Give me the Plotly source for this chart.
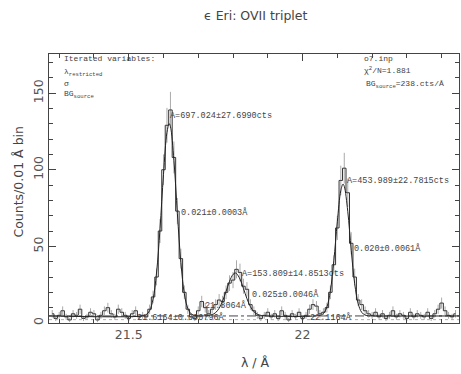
import numpy as np
import plotly.graph_objects as go

# ---------------- data ----------------
bin_start = 21.28
bin_width = 0.01
counts = [
    6, 3, 5, 8, 4, 2, 6, 5, 9, 3, 4, 7, 6, 2, 5, 8, 10, 6, 4, 9, 7, 5, 3, 6, 8, 4, 5,
    4, 9, 17, 30, 60, 100, 129, 139, 108, 73, 42, 20, 9, 4,
    3, 8, 14, 10, 6, 9, 12, 15,
    14, 20, 26, 28, 35, 33, 24, 22, 12, 8, 5, 3,
    5, 7, 4, 6, 3, 8, 5, 2, 6, 4, 7, 3, 5, 9, 12, 11, 6,
    7, 10, 20, 38, 62, 93, 101, 85, 52, 30, 15, 12, 8, 6,
    5, 7, 4, 6, 3, 5, 8, 4, 6, 5, 3, 7, 4, 6, 5, 4, 7, 3, 6, 9, 13, 8, 5, 4, 6,
]
bin_centers = np.round(bin_start + bin_width * np.arange(len(counts)), 3)

model_x = [21.27, 21.54, 21.55, 21.56, 21.57, 21.58, 21.59, 21.60, 21.61, 21.6164, 21.62, 21.63,
           21.64, 21.65, 21.66, 21.67, 21.68, 21.69, 21.70,
           21.73, 21.74, 21.75, 21.76, 21.77, 21.78, 21.79, 21.80, 21.8064, 21.81, 21.82,
           21.83, 21.84, 21.85, 21.86, 21.87, 21.88, 21.89,
           22.05, 22.06, 22.07, 22.08, 22.09, 22.10, 22.11, 22.1164, 22.12, 22.13, 22.14,
           22.15, 22.16, 22.17, 22.18, 22.19, 22.20, 22.45]
model_y = [4.6, 4.6, 5.4, 8.0, 15.5, 32.6, 61.5, 97.0, 124.3, 130.0, 128.2, 106.0,
           71.3, 39.5, 19.1, 9.4, 5.9, 4.9, 4.6,
           4.9, 5.4, 6.8, 9.6, 14.3, 20.6, 27.2, 31.7, 32.6, 32.3, 28.7,
           22.5, 15.9, 10.7, 7.4, 5.7, 5.0, 4.7,
           5.0, 6.2, 10.4, 21.0, 40.6, 66.0, 86.3, 90.6, 89.2, 72.9, 47.5,
           25.6, 12.6, 7.0, 5.15, 4.7, 4.6, 4.6]

bg_total = 4.6
bg_source = 2.2

x_range = [21.2707, 22.450]
y_range = [0, 175.5]

title = "ϵ Eri: OVII triplet"
x_title = "λ / Å"
y_title = "Counts/0.01 Å bin"

# plot-area geometry (pixels) used for placing corner texts
W, H = 461, 374
L, R, T, B = 48.5, 459, 54, 323

def px(x):
    return (x - L) / (R - L)

def py(y):
    return (B - y) / (B - T)

fig = go.Figure()

# background levels
fig.add_trace(go.Scatter(x=x_range, y=[bg_source, bg_source], mode="lines",
                         line=dict(color="#b0b0b0", width=1, dash="dot"), hoverinfo="skip"))
fig.add_trace(go.Scatter(x=x_range, y=[bg_total, bg_total], mode="lines",
                         line=dict(color="#444444", width=1, dash="dashdot"), hoverinfo="skip"))

# data histogram with error bars
fig.add_trace(go.Scatter(
    x=bin_centers, y=counts, mode="lines", line_shape="hvh",
    line=dict(color="#333333", width=1),
    error_y=dict(type="sqrt", color="#aaaaaa", thickness=1, width=0),
))

# model curve
fig.add_trace(go.Scatter(x=model_x, y=model_y, mode="lines", line_shape="spline",
                         line=dict(color="#222222", width=1)))

mono = "Liberation Mono"
tcol = "#444444"

peak_notes = [
    ("A=697.024±27.6990cts", 21.614, 135),
    ("0.021±0.0003Å", 21.6457, 71.8),
    ("A=153.809±14.8513cts", 21.821, 32),
    ("0.025±0.0046Å", 21.85, 18.9),
    ("21.8064Å", 21.7146, 11.7),
    ("21.6164±0.000796Å", 21.519, 3.3),
    ("22.1164Å", 22.016, 3.3),
    ("A=453.989±22.7815cts", 22.122, 92.6),
    ("0.020±0.0061Å", 22.142, 48.9),
]
annotations = []
for text, x, y in peak_notes:
    annotations.append(dict(text=text, x=x, y=y, xref="x", yref="y", xanchor="left",
                            yanchor="middle", showarrow=False,
                            font=dict(family=mono, size=8.5, color=tcol)))

corner_notes = [
    ("Iterated variables:", 62, 58),
    ("λ<sub>restricted</sub>", 62, 72),
    ("σ", 62, 83),
    ("BG<sub>source</sub>", 62, 94),
    ("o7.inp", 362, 58),
    ("χ<sup>2</sup>/N=1.881", 362, 70),
    ("BG<sub>source</sub>=238.cts/Å", 364, 84),
]
for text, x, y in corner_notes:
    annotations.append(dict(text=text, x=px(x), y=py(y), xref="paper", yref="paper",
                            xanchor="left", yanchor="middle", showarrow=False,
                            font=dict(family=mono, size=8, color=tcol)))

# titles
annotations.append(dict(text=title, x=px(255), y=py(15), xref="paper", yref="paper",
                        xanchor="center", yanchor="middle", showarrow=False,
                        font=dict(family="DejaVu Sans", size=12.5, color="#444444")))
annotations.append(dict(text=x_title, x=px(255), y=py(362), xref="paper", yref="paper",
                        xanchor="center", yanchor="middle", showarrow=False,
                        font=dict(family="DejaVu Sans", size=12.5, color="#444444")))
annotations.append(dict(text=y_title, x=px(17), y=py(182), xref="paper", yref="paper",
                        xanchor="center", yanchor="middle", showarrow=False, textangle=-90,
                        font=dict(family="DejaVu Sans", size=12.5, color="#444444")))

axis_common = dict(showgrid=False, zeroline=False, showline=True, linecolor="#444444",
                   linewidth=1, mirror="ticks", ticks="inside", tickcolor="#444444",
                   ticklen=7, tickwidth=1,
                   tickfont=dict(family="DejaVu Sans", size=12.5, color="#555555"))

fig.update_layout(
    width=W, height=H,
    margin=dict(l=L, r=W - R, t=T, b=H - B, pad=0),
    paper_bgcolor="white", plot_bgcolor="white",
    showlegend=False,
    annotations=annotations,
    xaxis=dict(range=x_range, tickvals=[21.5, 22], ticktext=["21.5", "22"],
               minor=dict(dtick=0.1, tick0=21.5, ticks="inside", ticklen=4, tickcolor="#444444"),
               **axis_common),
    yaxis=dict(range=y_range, tickvals=[0, 50, 100, 150], tickangle=-90,
               minor=dict(dtick=10, tick0=0, ticks="inside", ticklen=4, tickcolor="#444444"),
               **axis_common),
)

fig.write_html("out.html")
